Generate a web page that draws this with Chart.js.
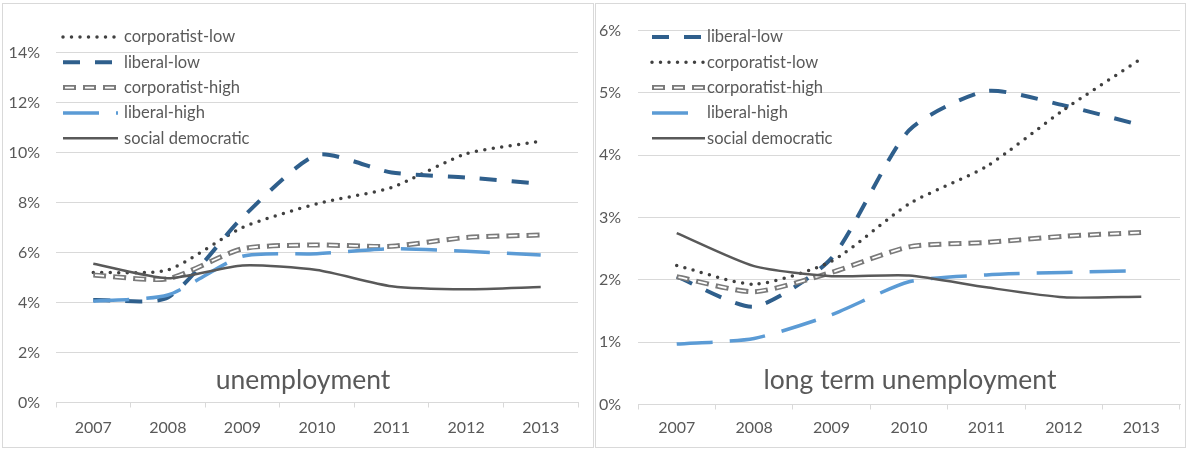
<!DOCTYPE html>
<html>
<head>
<meta charset="utf-8">
<script src="https://cdn.jsdelivr.net/npm/chart.js@4.4.1/dist/chart.umd.min.js"></script>
<style>
    body { margin: 0; background: #fff; width: 1187px; height: 450px; position: relative; overflow: hidden; }
    .panel { position: absolute; top: 3px; height: 443px; border: 1px solid #d9d9d9; background: #fff; }
    #left { left: 2px; width: 590px; }
    #right { left: 595px; width: 589px; }
    canvas { display: block; }
</style>
</head>
<body>
<div class="panel" id="left"><canvas id="unemp"></canvas></div>
<div class="panel" id="right"><canvas id="ltunemp"></canvas></div>
<script>
const years = ['2007', '2008', '2009', '2010', '2011', '2012', '2013'];

// unemployment, % of labour force
const unCorpLow  = [5.2, 5.3, 7.0, 7.95, 8.6, 9.95, 10.45];
const unLibLow   = [4.1, 4.2, 7.4, 9.9, 9.2, 9.0, 8.75];
const unCorpHigh = [5.1, 4.95, 6.15, 6.3, 6.25, 6.6, 6.7];
const unLibHigh  = [4.05, 4.3, 5.85, 5.95, 6.15, 6.05, 5.9];
const unSocDem   = [5.55, 4.97, 5.48, 5.3, 4.65, 4.53, 4.62];

// long term unemployment, % of labour force
const ltLibLow   = [2.05, 1.57, 2.35, 4.4, 5.03, 4.8, 4.48];
const ltCorpLow  = [2.23, 1.93, 2.3, 3.22, 3.82, 4.73, 5.55];
const ltCorpHigh = [2.05, 1.81, 2.12, 2.53, 2.6, 2.7, 2.76];
const ltLibHigh  = [0.97, 1.06, 1.44, 1.97, 2.08, 2.12, 2.15];
const ltSocDem   = [2.75, 2.22, 2.06, 2.07, 1.88, 1.72, 1.73];

const unTicks = [0, 2, 4, 6, 8, 10, 12, 14];
const ltTicks = [0, 1, 2, 3, 4, 5, 6];

const FONT = 'Lato, "Open Sans", sans-serif';
const TEXT = '#595959';
const GRID = '#d9d9d9';

// line look per regime type
const styles = {
    'corporatist-low':   { color: '#404040', width: 3.5, dash: [0, 8.5], cap: 'round' },
    'liberal-low':       { color: '#2f5f8c', width: 4, dash: [17, 15] },
    'corporatist-high':  { color: '#7a7a7a', width: 5, dash: [13, 7],
                           inner: { width: 1.8, dash: [9, 11], offset: -2 } },
    'liberal-high':      { color: '#5b9bd5', width: 3.5, dash: [36, 17] },
    'social democratic': { color: '#595959', width: 2.5, dash: [] }
};

function buildDatasets(series) {
    let out = [];
    series.forEach((s, i) => {
        let st = styles[s.label];
        let ord = (series.length - i) * 2;
        out.push({
            label: s.label, data: s.data, order: ord,
            borderColor: st.color, borderWidth: st.width,
            borderDash: st.dash, borderCapStyle: st.cap || 'butt'
        });
        if (st.inner) {
            // white core makes the hollow box dashes
            out.push({
                label: s.label, data: s.data, order: ord - 1, inner: true,
                borderColor: '#ffffff', borderWidth: st.inner.width,
                borderDash: st.inner.dash, borderDashOffset: st.inner.offset
            });
        }
    });
    return out;
}

// legend drawn as line samples inside the plot, like the spreadsheet one
const lineKey = {
    id: 'lineKey',
    afterDraw(chart, args, opts) {
        let ctx = chart.ctx;
        let k = 0;
        ctx.save();
        chart.data.datasets.forEach(ds => {
            if (ds.inner) return;
            let st = styles[ds.label];
            let y = opts.y + k * opts.step;
            let strokes = [{ c: st.color, w: st.width, d: st.dash, o: 0, cap: st.cap || 'butt' }];
            if (st.inner) strokes.push({ c: '#ffffff', w: st.inner.width, d: st.inner.dash, o: st.inner.offset, cap: 'butt' });
            strokes.forEach(s => {
                ctx.beginPath();
                ctx.strokeStyle = s.c;
                ctx.lineWidth = s.w;
                ctx.lineCap = s.cap;
                ctx.setLineDash(s.d);
                ctx.lineDashOffset = s.o;
                ctx.moveTo(opts.x, y);
                ctx.lineTo(opts.x + opts.len, y);
                ctx.stroke();
            });
            ctx.setLineDash([]);
            ctx.fillStyle = TEXT;
            ctx.font = opts.fontSize + 'px ' + FONT;
            ctx.textBaseline = 'middle';
            ctx.textAlign = 'left';
            ctx.fillText(ds.label, opts.textX, y);
            k++;
        });
        ctx.restore();
    }
};

const panelTitle = {
    id: 'panelTitle',
    afterDraw(chart, args, opts) {
        let ctx = chart.ctx;
        ctx.save();
        ctx.fillStyle = TEXT;
        ctx.font = opts.fontSize + 'px ' + FONT;
        ctx.textAlign = 'center';
        ctx.textBaseline = 'middle';
        ctx.fillText(opts.text, opts.x, opts.y);
        ctx.restore();
    }
};

function makeChart(id, series, ticks, cfg) {
    let ctx = document.getElementById(id);
    return new Chart(ctx, {
        type: 'line',
        data: { labels: years, datasets: buildDatasets(series) },
        plugins: [lineKey, panelTitle],
        options: {
            responsive: true,
            maintainAspectRatio: false,
            animation: false,
            layout: { padding: cfg.padding },
            elements: {
                point: { radius: 0, hoverRadius: 0 },
                line: { tension: 0.22, fill: false }
            },
            scales: {
                x: {
                    offset: true,
                    grid: { display: true, drawOnChartArea: false, drawTicks: true, tickLength: 5, color: GRID, offset: true },
                    border: { display: true, color: GRID, width: 1 },
                    ticks: { color: TEXT, font: { family: FONT, size: 16 }, padding: cfg.xPad, maxRotation: 0 },
                    afterFit: scale => { scale.height = cfg.xHeight; }
                },
                y: {
                    min: 0,
                    max: ticks[ticks.length - 1],
                    afterBuildTicks: scale => { scale.ticks = ticks.map(v => ({ value: v })); },
                    grid: { color: GRID, drawTicks: false },
                    border: { display: false },
                    ticks: { color: TEXT, font: { family: FONT, size: 16 }, padding: cfg.yPad, callback: v => v + '%' },
                    afterFit: scale => { scale.width = cfg.yWidth; }
                }
            },
            plugins: {
                legend: { display: false },
                tooltip: { enabled: false },
                lineKey: cfg.key,
                panelTitle: cfg.title
            }
        }
    });
}

makeChart('unemp', [
    { label: 'corporatist-low', data: unCorpLow },
    { label: 'liberal-low', data: unLibLow },
    { label: 'corporatist-high', data: unCorpHigh },
    { label: 'liberal-high', data: unLibHigh },
    { label: 'social democratic', data: unSocDem }
], unTicks, {
    padding: { top: 48.5, right: 15, left: 0, bottom: 0 },
    yWidth: 53, xHeight: 44.5, xPad: 11, yPad: 16,
    key: { x: 60, y: 33, step: 25.3, len: 55, textX: 121, fontSize: 16.5 },
    title: { text: 'unemployment', x: 300, y: 376, fontSize: 26.5 }
});

makeChart('ltunemp', [
    { label: 'liberal-low', data: ltLibLow },
    { label: 'corporatist-low', data: ltCorpLow },
    { label: 'corporatist-high', data: ltCorpHigh },
    { label: 'liberal-high', data: ltLibHigh },
    { label: 'social democratic', data: ltSocDem }
], ltTicks, {
    padding: { top: 21, right: 5, left: 0, bottom: 0 },
    yWidth: 42, xHeight: 42.5, xPad: 9, yPad: 17,
    key: { x: 56, y: 33, step: 25.3, len: 53, textX: 111, fontSize: 16.5 },
    title: { text: 'long term unemployment', x: 314, y: 376, fontSize: 26.5 }
});
</script>
</body>
</html>
